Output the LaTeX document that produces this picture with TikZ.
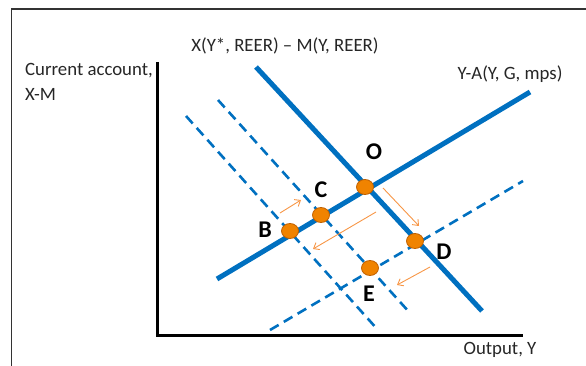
\documentclass[tikz,border=0pt]{standalone}
\usepackage{fontspec}
\setmainfont{Carlito}
\usetikzlibrary{arrows.meta,shapes.geometric}
\definecolor{lineblue}{HTML}{0070C0}
\definecolor{dotorange}{HTML}{F08300}
\definecolor{dotedge}{HTML}{C06000}
\definecolor{arrorange}{HTML}{F79646}
\tikzset{
  solidcurve/.style={lineblue, line width=5pt},
  dashcurve/.style={lineblue, line width=2.6pt, dash pattern=on 10pt off 6pt},
  axisline/.style={black, line width=3pt},
  eqdot/.style={ellipse, draw=dotedge, fill=dotorange, line width=0.8pt, minimum width=17pt, minimum height=15pt, inner sep=0pt},
  ptlabel/.style={font=\fontsize{24}{28}\selectfont\bfseries, inner sep=0pt},
  txt/.style={font=\fontsize{18.8}{22}\selectfont, inner sep=0pt, text=black!85},
  moveto/.style={arrorange, line width=0.9pt, -{Straight Barb[length=5pt,width=8pt]}}
}
\begin{document}
\begin{tikzpicture}[x=1pt,y=-1pt]
\useasboundingbox (0,0) rectangle (586,366);
% frame
\draw[black!80, line width=1.5pt] (11.5,380) -- (11.5,9) -- (600,9);
% axes
\coordinate (ytop) at (157,62);
\coordinate (orig) at (157,335);
\coordinate (xend) at (523,335);
\draw[axisline] (ytop) -- (orig) -- (xend);
% dashed lines
\coordinate (d1a) at (186,116); \coordinate (d1b) at (378,330);
\coordinate (d2a) at (218,100); \coordinate (d2b) at (410,313);
\coordinate (d3a) at (270,330); \coordinate (d3b) at (523,181);
\draw[dashcurve] (d1a) -- (d1b);
\draw[dashcurve] (d2a) -- (d2b);
\draw[dashcurve] (d3a) -- (d3b);
% solid lines
\coordinate (s1a) at (217,279); \coordinate (s1b) at (530,92);
\coordinate (s2a) at (256,67); \coordinate (s2b) at (482,311);
\draw[solidcurve] (s1a) -- (s1b);
\draw[solidcurve] (s2a) -- (s2b);
% arrows
\coordinate (a1s) at (280,213); \coordinate (a1e) at (301,200);
\coordinate (a2s) at (376,212); \coordinate (a2e) at (313,249);
\coordinate (a3s) at (383,188); \coordinate (a3e) at (419,226);
\coordinate (a4s) at (430,267); \coordinate (a4e) at (397,285);
\draw[moveto] (a1s) -- (a1e);
\draw[moveto] (a2s) -- (a2e);
\draw[moveto] (a3s) -- (a3e);
\draw[moveto] (a4s) -- (a4e);
% dots
\node[eqdot] (O) at (365,187) {};
\node[eqdot] (C) at (321,215) {};
\node[eqdot] (B) at (290,231) {};
\node[eqdot] (D) at (415,241) {};
\node[eqdot] (E) at (370,268) {};
% point labels
\node[ptlabel] (Ol) at (374,152) {O};
\node[ptlabel] (Cl) at (321,190) {C};
\node[ptlabel] (Bl) at (265,230) {B};
\node[ptlabel] (Dl) at (444,252) {D};
\node[ptlabel] (El) at (369,294) {E};
% texts
\node[txt, anchor=west] (ca) at (25,71) {Current account,};
\node[txt, anchor=west] (xm) at (25,94) {X-M};
\node[txt] (xmlab) at (285,46) {X(Y*, REER) -- M(Y, REER)};
\node[txt] (yalab) at (510,74) {Y-A(Y, G, mps)};
\node[txt] (outlab) at (500,350) {Output, Y};
\end{tikzpicture}
\end{document}
